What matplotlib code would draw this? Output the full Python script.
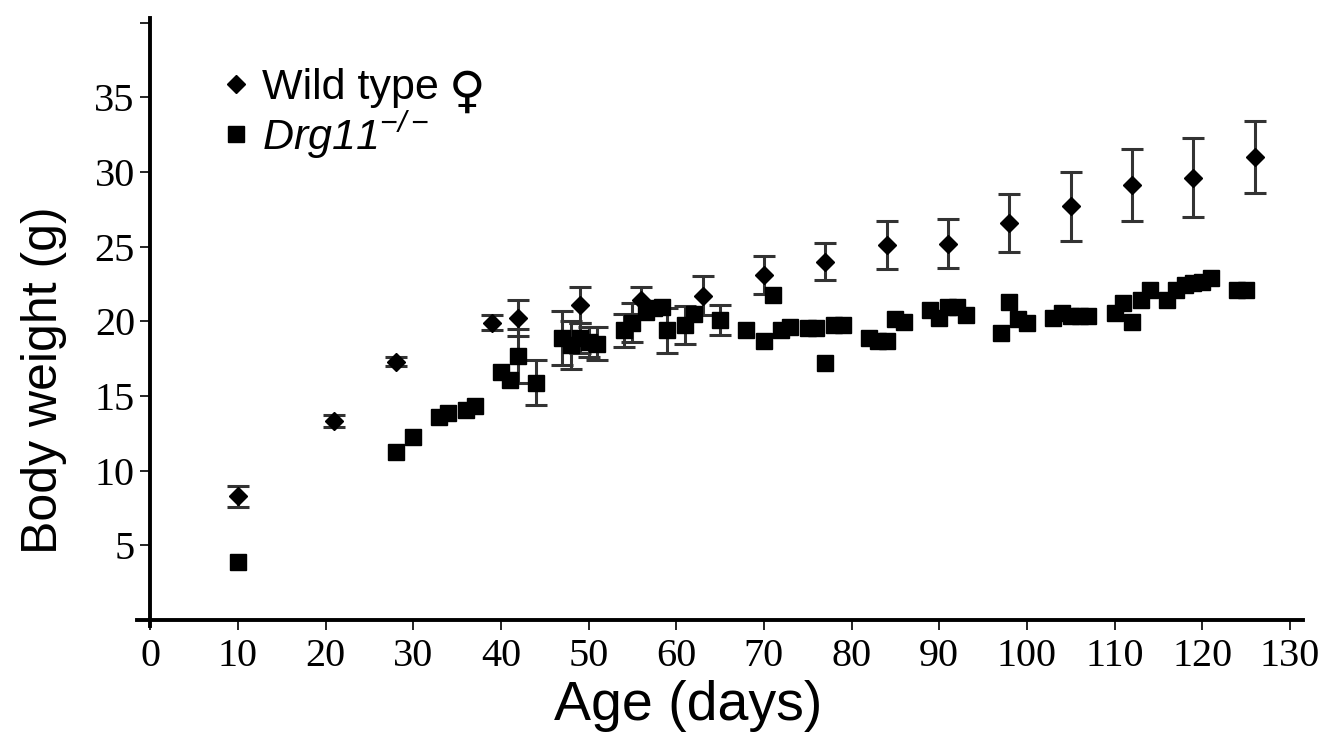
import numpy as np
import matplotlib.pyplot as plt
from matplotlib import rcParams

rcParams['mathtext.fontset'] = 'custom'
rcParams['mathtext.rm'] = 'Liberation Sans:italic'
rcParams['mathtext.it'] = 'Liberation Sans:italic'

# wild type females, mean +- error
wt_age = [10, 21, 28, 39, 42, 49, 56, 63, 70, 77, 84, 91, 98, 105, 112, 119, 126]
wt_weight = [8.3, 13.3, 17.3, 19.9, 20.2, 21.1, 21.4, 21.7, 23.1, 24.0, 25.1,
             25.2, 26.6, 27.7, 29.1, 29.6, 31.0]
wt_err = [0.7, 0.4, 0.3, 0.5, 1.2, 1.2, 0.9, 1.3, 1.25, 1.25, 1.6, 1.65, 1.95,
          2.3, 2.4, 2.65, 2.4]

# Drg11 -/-
ko_age = [10, 28, 30, 33, 34, 36, 37, 40, 41, 42, 44, 47, 48, 49, 50, 51, 54,
          55, 56.5, 57.5, 58.4, 59, 61, 62, 65, 68, 70, 71, 72, 73, 75, 76, 77,
          78, 79, 82, 83, 84, 85, 86, 89, 90, 91, 92, 93, 97, 98, 99, 100, 103,
          104, 105, 106, 107, 110, 111, 112, 113, 114, 116, 117, 118, 119, 120,
          121, 124, 125]
ko_weight = [3.9, 11.25, 12.25, 13.6, 13.85, 14.05, 14.3, 16.6, 16.1, 17.7,
             15.9, 18.9, 18.4, 18.9, 18.6, 18.5, 19.4, 19.9, 20.6, 20.9, 20.95,
             19.4, 19.75, 20.5, 20.1, 19.4, 18.7, 21.75, 19.4, 19.6, 19.55,
             19.55, 17.2, 19.75, 19.75, 18.9, 18.7, 18.7, 20.15, 19.95, 20.75,
             20.2, 20.95, 20.95, 20.4, 19.2, 21.3, 20.15, 19.9, 20.2, 20.55,
             20.35, 20.35, 20.35, 20.55, 21.2, 19.95, 21.4, 22.1, 21.4, 22.1,
             22.4, 22.55, 22.6, 22.9, 22.1, 22.1]
ko_err = [0, 0, 0, 0, 0, 0, 0, 0, 0, 1.8, 1.5, 1.8, 1.6, 1.0, 1.0, 1.1, 1.1,
          1.3, 0, 0, 0, 1.5, 1.3, 0, 1.0] + [0] * 42

xticks = list(range(0, 131, 10))
yticks = [5, 10, 15, 20, 25, 30, 35, 40]
ytick_labels = ['5', '10', '15', '20', '25', '30', '35', '']

fig = plt.figure(figsize=(13.42, 7.42), dpi=100)
ax = fig.add_axes([0.1021, 0.1563, 0.8689, 0.8194])

ebar_col = '#333333'
ka = np.array(ko_age)
kw = np.array(ko_weight)
ke = np.array(ko_err)
m = ke > 0
ax.errorbar(ka[m], kw[m], yerr=ke[m], fmt='none', ecolor=ebar_col,
            elinewidth=2.2, capsize=8, capthick=2.2, zorder=2)
ax.errorbar(wt_age, wt_weight, yerr=wt_err, fmt='none', ecolor=ebar_col,
            elinewidth=2.2, capsize=8, capthick=2.2, zorder=2)
ax.plot(wt_age, wt_weight, 'D', color='black', markersize=9.5, zorder=4,
        label='Wild type')
ax.plot(ko_age, ko_weight, 's', color='black', markersize=12, zorder=3,
        label=r'$\mathrm{Drg11}^{-/-}$')

ax.set_xlim(-1.5, 131.5)
ax.set_ylim(-0.4, 40.3)
ax.spines['left'].set_position(('data', 0))
ax.spines['bottom'].set_position(('data', 0))
ax.spines['top'].set_visible(False)
ax.spines['right'].set_visible(False)
ax.spines['left'].set_linewidth(2.8)
ax.spines['bottom'].set_linewidth(2.8)

ax.set_xticks(xticks)
ax.set_yticks(yticks)
ax.set_yticklabels(ytick_labels)
ax.tick_params(axis='both', direction='out', length=7, width=1.2, pad=6,
               labelsize=29)
ax.tick_params(axis='y', pad=4)
for lab in ax.get_xticklabels() + ax.get_yticklabels():
    lab.set_family('Liberation Serif')

ax.set_xlabel('Age (days)', fontsize=40, family='Liberation Sans')
ax.set_ylabel('Body weight (g)', fontsize=36, family='Liberation Sans')
ax.xaxis.set_label_coords(0.4726, -0.088)
ax.yaxis.set_label_coords(-0.06, 0.405)

leg = ax.legend(loc='upper left', bbox_to_anchor=(0.076, 0.917),
                frameon=False, handlelength=0.5, handletextpad=0.35,
                labelspacing=0.02, borderpad=0, borderaxespad=0,
                prop={'family': 'Liberation Sans', 'size': 31})

# female sign after the first legend entry
fig.canvas.draw()
bb = leg.get_texts()[0].get_window_extent()
W, H = fig.get_size_inches() * fig.dpi
fig.text((bb.x1 + 10) / W, (bb.y0 + bb.y1) / 2 / H - 0.006, '\u2640',
         family='DejaVu Sans', fontsize=36, ha='left', va='center')

fig.savefig('out.png', dpi=100)
